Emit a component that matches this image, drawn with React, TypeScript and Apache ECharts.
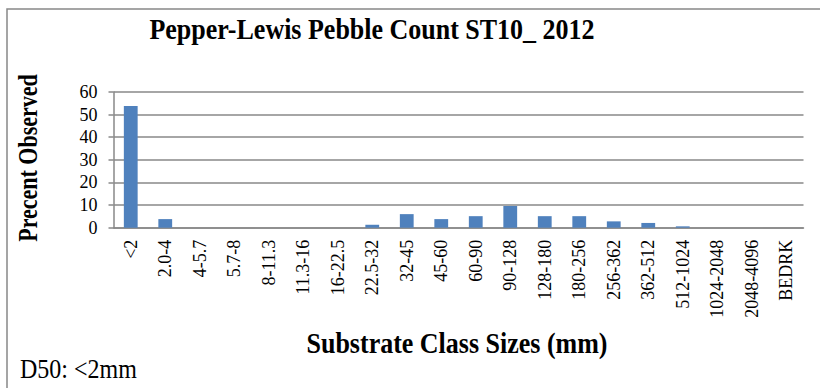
import React, { useEffect, useRef } from "react";
import * as echarts from "echarts";

// Pebble count by substrate size class (percent of pebbles observed)
const sizeClasses = [
  "<2", "2.0-4", "4-5.7", "5.7-8", "8-11.3", "11.3-16", "16-22.5", "22.5-32",
  "32-45", "45-60", "60-90", "90-128", "128-180", "180-256", "256-362",
  "362-512", "512-1024", "1024-2048", "2048-4096", "BEDRK",
];
const percentObserved = [
  53.8, 3.8, 0, 0, 0, 0, 0, 1.3,
  6.0, 3.8, 5.1, 9.6, 5.1, 5.1, 2.8,
  2.1, 0.6, 0, 0, 0,
];
const yMin = 0;
const yMax = 60;
const yStep = 10;

const chartTitle = "Pepper-Lewis Pebble Count ST10_ 2012";
const yTitle = "Precent Observed";
const xTitle = "Substrate Class Sizes (mm)";
const d50Note = "D50: <2mm";

const SERIF = "Liberation Serif";
const GRID_GRAY = "#888888";
// the serif face used here is set slightly tall and narrow
const TALL = 1.15;

export default function App() {
  const ref = useRef<HTMLDivElement>(null);

  useEffect(() => {
    document.body.style.margin = "0";
    if (!ref.current) return;
    const chart = echarts.init(ref.current, undefined, { renderer: "svg" });
    chart.setOption({
      animation: false,
      backgroundColor: "#ffffff",
      grid: { left: 113.5, right: 16.5, top: 92, bottom: 160.3, containLabel: false },
      xAxis: {
        type: "category",
        data: sizeClasses,
        axisLine: { show: true, lineStyle: { color: GRID_GRAY, width: 1.5 } },
        axisTick: { show: false },
        axisLabel: {
          rotate: 90,
          interval: 0,
          margin: 12,
          fontFamily: SERIF,
          fontSize: 18,
          color: "#000000",
        },
        splitLine: { show: false },
      },
      yAxis: {
        type: "value",
        min: yMin,
        max: yMax,
        interval: yStep,
        axisLine: { show: true, lineStyle: { color: GRID_GRAY, width: 1.5 } },
        axisTick: { show: true, inside: false, length: 5, lineStyle: { color: GRID_GRAY, width: 1.5 } },
        axisLabel: { margin: 16, fontFamily: SERIF, fontSize: 18, color: "#000000" },
        splitLine: { show: true, lineStyle: { color: GRID_GRAY, width: 1.5 } },
      },
      series: [
        {
          type: "bar",
          data: percentObserved,
          barWidth: "40%",
          itemStyle: { color: "#4f81bd" },
        },
      ],
      graphic: [
        {
          type: "rect",
          silent: true,
          shape: { x: 7, y: 9, width: 840, height: 400 },
          style: { fill: "none", stroke: GRID_GRAY, lineWidth: 1.5 },
        },
        {
          type: "text",
          x: 372,
          y: 29,
          scaleY: TALL,
          style: {
            text: chartTitle,
            font: `bold 26px ${SERIF}`,
            fill: "#000000",
            align: "center",
            verticalAlign: "middle",
          },
        },
        {
          type: "text",
          x: 28,
          y: 158,
          rotation: Math.PI / 2,
          scaleY: 1.25,
          style: {
            text: yTitle,
            font: `bold 22px ${SERIF}`,
            fill: "#000000",
            align: "center",
            verticalAlign: "middle",
          },
        },
        {
          type: "text",
          x: 457,
          y: 343,
          scaleY: TALL,
          style: {
            text: xTitle,
            font: `bold 26px ${SERIF}`,
            fill: "#000000",
            align: "center",
            verticalAlign: "middle",
          },
        },
        {
          type: "text",
          x: 20,
          y: 369,
          scaleY: TALL,
          style: {
            text: d50Note,
            font: `24px ${SERIF}`,
            fill: "#000000",
            align: "left",
            verticalAlign: "middle",
          },
        },
      ],
    });
    return () => chart.dispose();
  }, []);

  return <div ref={ref} style={{ width: 820, height: 388 }} />;
}
